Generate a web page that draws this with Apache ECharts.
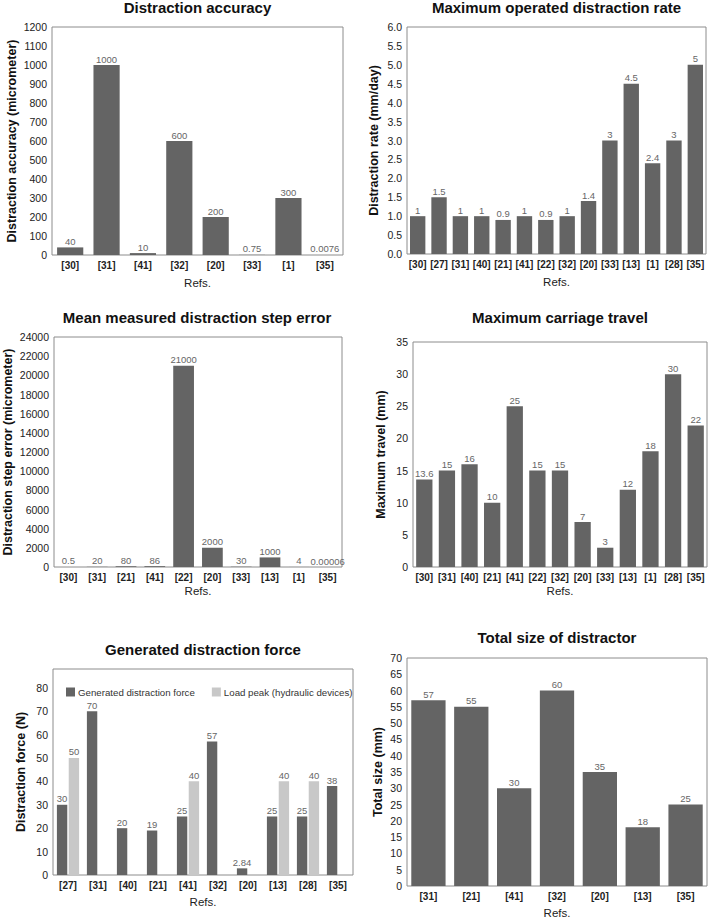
<!DOCTYPE html>
<html><head><meta charset="utf-8">
<script src="https://cdn.jsdelivr.net/npm/echarts@6/dist/echarts.min.js"></script>
<style>html,body{margin:0;padding:0;background:#fff}#c{width:709px;height:921px}</style>
</head><body><div id="c"></div>
<script>
// Panel 1: Distraction accuracy
const accCats = ['[30]','[31]','[41]','[32]','[20]','[33]','[1]','[35]'];
const accVals = [40, 1000, 10, 600, 200, 0.75, 300, 0.0076];
// Panel 2: Maximum operated distraction rate
const rateCats = ['[30]','[27]','[31]','[40]','[21]','[41]','[22]','[32]','[20]','[33]','[13]','[1]','[28]','[35]'];
const rateVals = [1, 1.5, 1, 1, 0.9, 1, 0.9, 1, 1.4, 3, 4.5, 2.4, 3, 5];
// Panel 3: Mean measured distraction step error
const stepCats = ['[30]','[31]','[21]','[41]','[22]','[20]','[33]','[13]','[1]','[35]'];
const stepVals = [0.5, 20, 80, 86, 21000, 2000, 30, 1000, 4, 0.00006];
// Panel 4: Maximum carriage travel
const travelCats = ['[30]','[31]','[40]','[21]','[41]','[22]','[32]','[20]','[33]','[13]','[1]','[28]','[35]'];
const travelVals = [13.6, 15, 16, 10, 25, 15, 15, 7, 3, 12, 18, 30, 22];
// Panel 5: Generated distraction force
const forceCats = ['[27]','[31]','[40]','[21]','[41]','[32]','[20]','[13]','[28]','[35]'];
const forceVals = [30, 70, 20, 19, 25, 57, 2.84, 25, 25, 38];
const peakVals = [50, null, null, null, 40, null, null, 40, 40, null];
// Panel 6: Total size of distractor
const sizeCats = ['[31]','[21]','[41]','[32]','[20]','[13]','[35]'];
const sizeVals = [57, 55, 30, 60, 35, 18, 25];

const titles = ['Distraction accuracy','Maximum operated distraction rate','Mean measured distraction step error','Maximum carriage travel','Generated distraction force','Total size of distractor'];
const yNames = ['Distraction accuracy (micrometer)','Distraction rate (mm/day)','Distraction step error (micrometer)','Maximum travel (mm)','Distraction force (N)','Total size (mm)'];
const legendNames = ['Generated distraction force','Load peak (hydraulic devices)'];

const FONT = '"Liberation Sans", Arial, sans-serif';
const DARK = '#646464', LIGHT = '#c8c8c8';

const grids = [
  {left:52, top:27, width:291, height:228},
  {left:407, top:27, width:299, height:227},
  {left:52, top:337, width:290, height:230},
  {left:413, top:342, width:294, height:225},
  {left:53, top:669, width:300, height:206},
  {left:407, top:658, width:300, height:228}
];
const titleTops = [0, 0, 310, 310, 642, 630];
const yGaps = [34, 27, 40, 26, 26, 23];
const xGaps = [22, 22, 18, 18, 21, 21];
const cats = [accCats, rateCats, stepCats, travelCats, forceCats, sizeCats];
const yScale = [
  {min:0, max:1200, interval:100},
  {min:0, max:6, interval:0.5, dec:1},
  {min:0, max:24000, interval:2000},
  {min:0, max:35, interval:5},
  {min:0, max:88, interval:10, hideMax:true},
  {min:0, max:70, interval:5}
];

const option = {
  animation:false,
  textStyle:{fontFamily:FONT},
  title: titles.map((t,i)=>({
    text:t, left:grids[i].left + grids[i].width/2, top:titleTops[i], textAlign:'center', padding:0,
    textStyle:{fontFamily:FONT, fontSize:15, fontWeight:'bold', color:'#111'}
  })),
  legend:{
    data:legendNames, left:61, top:682, itemWidth:9, itemHeight:9, itemGap:17, icon:'rect',
    textStyle:{fontFamily:FONT, fontSize:9.7, color:'#333', padding:[0,0,0,-2]}
  },
  grid: grids.map(g=>Object.assign({show:true, borderColor:'#8c8c8c', borderWidth:1, backgroundColor:'#fff'}, g)),
  xAxis: cats.map((c,i)=>({
    type:'category', gridIndex:i, data:c,
    name:'Refs.', nameLocation:'middle', nameGap:xGaps[i],
    nameTextStyle:{fontFamily:FONT, fontSize:11.5, color:'#222'},
    axisLine:{show:false}, axisTick:{show:false},
    axisLabel:{interval:0, fontFamily:FONT, fontSize:10, fontWeight:'bold', color:'#222', margin:5}
  })),
  yAxis: yScale.map((s,i)=>({
    type:'value', gridIndex:i, min:s.min, max:s.max, interval:s.interval,
    name:yNames[i], nameLocation:'middle', nameGap:yGaps[i],
    nameTextStyle:{fontFamily:FONT, fontSize:12.5, fontWeight:'bold', color:'#111'},
    splitLine:{show:false}, axisLine:{show:false}, axisTick:{show:false},
    axisLabel:{fontFamily:FONT, fontSize:10.5, color:'#222', margin:5, showMaxLabel: s.hideMax ? false : true,
      formatter: s.dec ? (v=>v.toFixed(s.dec)) : (v=>String(v))}
  })),
  series: []
};

const lbl = {show:true, position:'top', distance:1, fontFamily:FONT, fontSize:9.5, color:'#666'};
const single = [accVals, rateVals, stepVals, travelVals];
single.forEach((vals,i)=>{
  option.series.push({type:'bar', xAxisIndex:i, yAxisIndex:i, data:vals, barCategoryGap:'28%',
    itemStyle:{color:DARK}, label:lbl});
});
option.series.push({type:'bar', name:legendNames[0], xAxisIndex:4, yAxisIndex:4, data:forceVals,
  barCategoryGap:'26%', barGap:'14%', itemStyle:{color:DARK}, label:lbl});
option.series.push({type:'bar', name:legendNames[1], xAxisIndex:4, yAxisIndex:4, data:peakVals,
  barCategoryGap:'26%', barGap:'14%', itemStyle:{color:LIGHT}, label:lbl});
option.series.push({type:'bar', xAxisIndex:5, yAxisIndex:5, data:sizeVals, barCategoryGap:'20%',
  itemStyle:{color:DARK}, label:lbl});

const chart = echarts.init(document.getElementById('c'), null, {renderer:'svg'});
chart.setOption(option);
</script></body></html>
